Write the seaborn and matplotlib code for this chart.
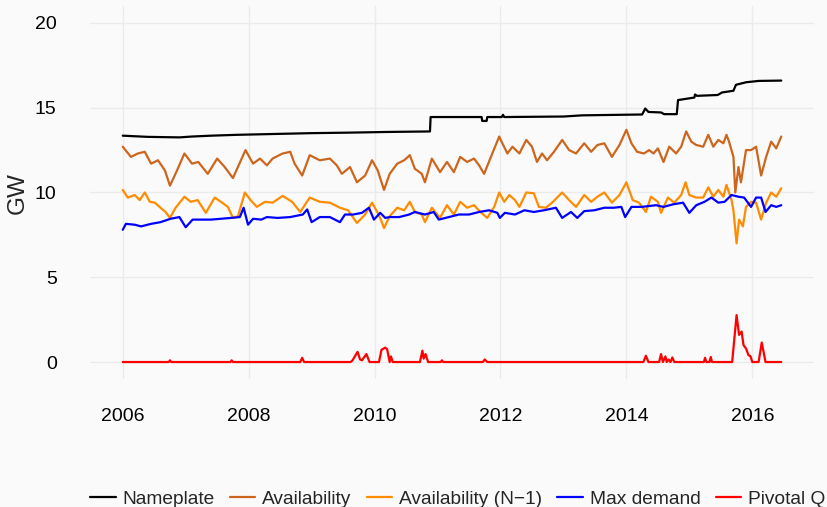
import pandas as pd
import seaborn as sns
import matplotlib.pyplot as plt

# values (decimal year, GW)
nameplate_t = [2006.00, 2006.40, 2006.90, 2007.10, 2007.40, 2007.80, 2008.40, 2009.00, 2009.60, 2010.20,
               2010.88, 2010.89, 2011.70, 2011.71, 2011.78, 2011.79, 2012.02, 2012.04, 2012.06, 2013.00,
               2013.30, 2014.25, 2014.30, 2014.35, 2014.55, 2014.60, 2014.80, 2014.82, 2015.08, 2015.09,
               2015.12, 2015.45, 2015.52, 2015.70, 2015.74, 2015.90, 2016.10, 2016.46]
nameplate_v = [13.35, 13.28, 13.25, 13.30, 13.35, 13.40, 13.45, 13.50, 13.53, 13.57,
               13.60, 14.45, 14.45, 14.22, 14.22, 14.45, 14.45, 14.58, 14.45, 14.48,
               14.55, 14.60, 14.95, 14.75, 14.72, 14.62, 14.62, 15.45, 15.60, 15.78,
               15.70, 15.75, 15.90, 16.00, 16.35, 16.50, 16.58, 16.60]

avail_t = [2006.00, 2006.13, 2006.24, 2006.35, 2006.45, 2006.56, 2006.67, 2006.75, 2006.85, 2006.98,
           2007.10, 2007.20, 2007.35, 2007.50, 2007.62, 2007.75, 2007.95,
           2008.07, 2008.18, 2008.29, 2008.38, 2008.54, 2008.66, 2008.73, 2008.85, 2008.97,
           2009.13, 2009.29, 2009.40, 2009.48, 2009.61, 2009.72, 2009.85, 2009.96,
           2010.05, 2010.15, 2010.24, 2010.36, 2010.47, 2010.56, 2010.64, 2010.75, 2010.80, 2010.91,
           2011.04, 2011.15, 2011.26, 2011.36, 2011.47, 2011.58, 2011.66, 2011.74, 2011.87, 2011.98,
           2012.03, 2012.11, 2012.19, 2012.30, 2012.41, 2012.50, 2012.58, 2012.66, 2012.74, 2012.85, 2012.98,
           2013.09, 2013.20, 2013.33, 2013.44, 2013.54, 2013.65, 2013.77, 2013.89,
           2014.00, 2014.08, 2014.17, 2014.28, 2014.36, 2014.43, 2014.50, 2014.59, 2014.68, 2014.79, 2014.87, 2014.95,
           2015.03, 2015.11, 2015.22, 2015.30, 2015.38, 2015.46, 2015.54, 2015.59, 2015.63, 2015.70, 2015.73,
           2015.78, 2015.82, 2015.90, 2015.98,
           2016.06, 2016.14, 2016.22, 2016.30, 2016.38, 2016.46]
avail_v = [12.7, 12.1, 12.3, 12.4, 11.7, 11.9, 11.3, 10.4, 11.2, 12.3,
           11.7, 11.8, 11.1, 12.0, 11.5, 10.85, 12.5,
           11.7, 12.0, 11.6, 12.0, 12.3, 12.4, 11.7, 11.0, 12.2,
           11.9, 12.0, 11.6, 11.1, 11.5, 10.6, 11.0, 11.9,
           11.3, 10.15, 11.1, 11.7, 11.9, 12.2, 11.4, 11.1, 10.6, 12.0,
           11.2, 11.8, 11.2, 12.1, 11.8, 12.0, 11.6, 11.1, 12.3, 13.3,
           12.9, 12.3, 12.7, 12.3, 13.1, 12.7, 11.8, 12.3, 11.9, 12.4, 13.1,
           12.5, 12.3, 12.9, 12.4, 12.8, 12.9, 12.1, 12.8,
           13.7, 12.9, 12.4, 12.3, 12.5, 12.3, 12.6, 11.8, 12.7, 12.3, 12.7, 13.6,
           13.0, 12.8, 12.7, 13.4, 12.7, 13.1, 12.9, 13.4, 13.0, 12.1, 10.0,
           11.5, 10.6, 12.5, 12.5,
           12.7, 11.0, 12.1, 13.0, 12.6, 13.3]

n1_t = [2006.00, 2006.08, 2006.19, 2006.27, 2006.35, 2006.43, 2006.51, 2006.60, 2006.68, 2006.75, 2006.84, 2006.98,
        2007.08, 2007.19, 2007.32, 2007.46, 2007.56, 2007.67, 2007.75, 2007.83, 2007.94,
        2008.03, 2008.13, 2008.26, 2008.38, 2008.54, 2008.69, 2008.82, 2008.97,
        2009.13, 2009.29, 2009.45, 2009.58, 2009.72, 2009.85, 2009.96,
        2010.05, 2010.10, 2010.15, 2010.24, 2010.36, 2010.47, 2010.56, 2010.64, 2010.75, 2010.80, 2010.91,
        2011.04, 2011.15, 2011.26, 2011.36, 2011.47, 2011.58, 2011.68, 2011.79, 2011.90, 2011.98,
        2012.06, 2012.14, 2012.23, 2012.30, 2012.41, 2012.53, 2012.61, 2012.72, 2012.82, 2012.98,
        2013.09, 2013.20, 2013.33, 2013.44, 2013.54, 2013.65, 2013.77, 2013.89,
        2014.00, 2014.10, 2014.20, 2014.31, 2014.39, 2014.50, 2014.55, 2014.66, 2014.76, 2014.87, 2014.94,
        2015.00, 2015.11, 2015.22, 2015.30, 2015.38, 2015.46, 2015.54, 2015.59, 2015.67, 2015.70, 2015.75,
        2015.79, 2015.85, 2015.90, 2015.98,
        2016.06, 2016.14, 2016.22, 2016.30, 2016.38, 2016.46]
n1_v = [10.15, 9.7, 9.85, 9.55, 10.0, 9.45, 9.4, 9.1, 8.85, 8.5, 9.1, 9.75,
        9.45, 9.55, 8.8, 9.7, 9.45, 9.15, 8.5, 8.6, 10.0,
        9.55, 9.15, 9.45, 9.4, 9.8, 9.45, 8.85, 9.7,
        9.45, 9.4, 9.1, 8.95, 8.2, 8.7, 9.4,
        8.8, 8.4, 7.9, 8.6, 9.1, 8.95, 9.45, 8.85, 8.7, 8.25, 9.1,
        8.5, 9.25, 8.7, 9.45, 9.1, 9.25, 8.85, 8.5, 9.15, 10.0,
        9.45, 9.85, 9.55, 9.15, 10.0, 9.95, 9.15, 9.1, 9.4, 10.0,
        9.55, 9.15, 9.85, 9.45, 9.75, 10.0, 9.4, 9.85,
        10.6, 9.55, 9.4, 8.85, 9.75, 9.45, 8.8, 9.7, 9.4, 9.85, 10.6,
        9.85, 9.7, 9.7, 10.3, 9.75, 10.15, 9.75, 10.45, 9.55, 8.95, 7.0,
        8.4, 8.0, 9.15, 9.45,
        9.4, 8.4, 9.4, 10.0, 9.75, 10.25]

demand_t = [2006.00, 2006.05, 2006.19, 2006.29, 2006.45, 2006.60, 2006.76, 2006.90,
            2007.00, 2007.11, 2007.27, 2007.40, 2007.56, 2007.72, 2007.86, 2007.92, 2007.99,
            2008.07, 2008.20, 2008.29, 2008.46, 2008.66, 2008.86, 2008.93,
            2009.00, 2009.13, 2009.29, 2009.45, 2009.53, 2009.66, 2009.80, 2009.91, 2009.99,
            2010.09, 2010.17, 2010.24, 2010.39, 2010.55, 2010.64, 2010.80, 2010.94,
            2011.02, 2011.18, 2011.34, 2011.50, 2011.66, 2011.82, 2011.95, 2011.99,
            2012.07, 2012.23, 2012.38, 2012.53, 2012.69, 2012.88, 2012.98,
            2013.12, 2013.22, 2013.33, 2013.49, 2013.65, 2013.80, 2013.92, 2013.98,
            2014.08, 2014.24, 2014.36, 2014.47, 2014.59, 2014.74, 2014.90,
            2015.00, 2015.11, 2015.24, 2015.35, 2015.46, 2015.56, 2015.67, 2015.78, 2015.87, 2015.98,
            2016.06, 2016.14, 2016.21, 2016.30, 2016.38, 2016.46]
demand_v = [7.8, 8.15, 8.1, 8.0, 8.15, 8.25, 8.45, 8.55,
            7.95, 8.4, 8.4, 8.4, 8.45, 8.5, 8.55, 9.1, 8.1,
            8.45, 8.4, 8.55, 8.5, 8.55, 8.7, 9.0,
            8.25, 8.55, 8.55, 8.25, 8.7, 8.7, 8.8, 9.1, 8.4,
            8.8, 8.5, 8.55, 8.55, 8.7, 8.85, 8.7, 8.85,
            8.4, 8.55, 8.7, 8.7, 8.85, 8.95, 8.8, 8.5,
            8.8, 8.7, 8.95, 8.85, 8.95, 9.1, 8.5,
            8.85, 8.5, 8.9, 8.95, 9.1, 9.1, 9.15, 8.55,
            9.15, 9.15, 9.2, 9.25, 9.15, 9.3, 9.4,
            8.8, 9.25, 9.45, 9.7, 9.4, 9.45, 9.85, 9.75, 9.7, 9.15,
            9.7, 9.7, 8.85, 9.25, 9.15, 9.25]

pivotal_t = [2006.00, 2006.73, 2006.75, 2006.77, 2007.71, 2007.73, 2007.75, 2008.82, 2008.85, 2008.88,
             2009.62, 2009.65, 2009.73, 2009.77, 2009.80, 2009.87, 2009.92, 2010.07, 2010.11, 2010.17,
             2010.20, 2010.24, 2010.26, 2010.29, 2010.72, 2010.76, 2010.78, 2010.81, 2010.85, 2011.05,
             2011.07, 2011.09, 2011.72, 2011.75, 2011.79, 2014.27, 2014.31, 2014.35, 2014.52, 2014.55,
             2014.58, 2014.62, 2014.64, 2014.67, 2014.70, 2014.73, 2014.76, 2015.23, 2015.25, 2015.27,
             2015.32, 2015.34, 2015.36, 2015.68, 2015.75, 2015.79, 2015.83, 2015.86, 2015.90, 2015.94,
             2015.97, 2016.00, 2016.10, 2016.15, 2016.21, 2016.46]
pivotal_v = [0, 0, 0.1, 0, 0, 0.1, 0, 0, 0.25, 0,
             0, 0.1, 0.6, 0.15, 0.1, 0.47, 0, 0, 0.72, 0.85,
             0.75, 0, 0.33, 0, 0, 0.67, 0.2, 0.47, 0, 0,
             0.1, 0, 0, 0.15, 0, 0, 0.37, 0, 0, 0.47,
             0, 0.33, 0, 0.15, 0, 0.27, 0, 0, 0.25, 0,
             0, 0.3, 0, 0, 2.77, 1.6, 1.8, 1.0, 0.8, 0.4,
             0.35, 0, 0, 1.15, 0, 0]

series_names = ['Nameplate', 'Availability', 'Availability (N\u22121)', 'Max demand', 'Pivotal Q']
series_colors = ['black', '#CD661D', '#FF8C00', '#0000FF', '#FF0000']
x_ticks = [2006, 2008, 2010, 2012, 2014, 2016]
y_ticks = [0, 5, 10, 15, 20]

frames = []
for name, t, v in zip(series_names,
                      [nameplate_t, avail_t, n1_t, demand_t, pivotal_t],
                      [nameplate_v, avail_v, n1_v, demand_v, pivotal_v]):
    frames.append(pd.DataFrame({'year': t, 'GW': v, 'series': name}))
df = pd.concat(frames, ignore_index=True)

sns.set_theme(style='whitegrid', rc={'figure.facecolor': '#FAFAFA', 'axes.facecolor': '#FAFAFA',
                                     'grid.color': '#EBEBEB', 'grid.linewidth': 1.0})
plt.rcParams['font.family'] = ['Liberation Sans', 'DejaVu Sans']

fig = plt.figure(figsize=(8.28, 5.07), dpi=100)
ax = fig.add_axes([0.1087, 0.2525, 0.8744, 0.7357])

sns.lineplot(data=df, x='year', y='GW', hue='series', hue_order=series_names,
             palette=dict(zip(series_names, series_colors)), estimator=None,
             linewidth=1.6, ax=ax)

handles, labels = ax.get_legend_handles_labels()
ax.get_legend().remove()
fig.legend(handles, labels, loc='center left', bbox_to_anchor=(0.1087, 0.016), ncol=5,
           frameon=False, fontsize=13.8, handlelength=1.34, handletextpad=0.36,
           columnspacing=0.78, borderpad=0, borderaxespad=0)

ax.set_xlim(2005.48, 2016.98)
ax.set_ylim(-1, 21)
ax.set_xticks(x_ticks)
ax.set_xticklabels([str(x) for x in x_ticks])
ax.set_yticks(y_ticks)
ax.set_yticklabels([str(y) for y in y_ticks])
ax.tick_params(axis='both', length=0, labelsize=14, labelcolor='black')
ax.tick_params(axis='y', pad=24)
ax.tick_params(axis='x', pad=21)
ax.set_xlabel('')
ax.set_ylabel('')
for s in ax.spines.values():
    s.set_visible(False)

fig.text(18 / 828, 1 - 193 / 507, 'GW', rotation=90, ha='center', va='center', fontsize=17.5)

plt.savefig('out.png', dpi=100)
